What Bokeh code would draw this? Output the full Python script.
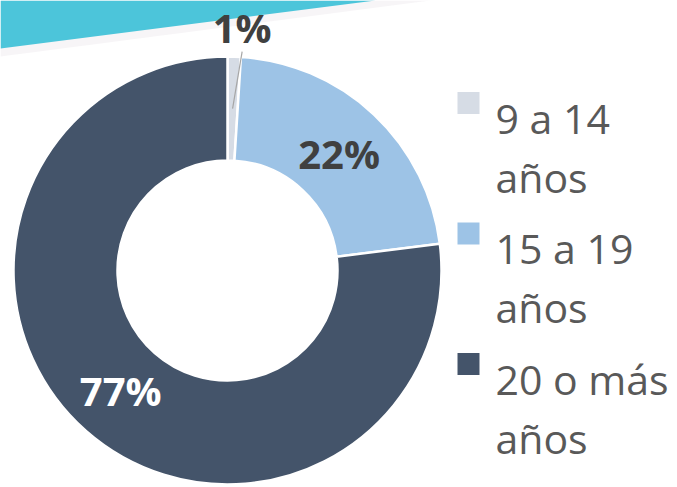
import numpy as np
from bokeh.plotting import figure
from bokeh.models import Range1d
from bokeh.core.properties import value
from bokeh.embed import file_html
from bokeh.resources import INLINE

# ---- data ----
categories = ["9 a 14 años", "15 a 19 años", "20 o más años"]
values = [1, 22, 77]
labels = ["1%", "22%", "77%"]
colors = ["#D6DCE5", "#9DC3E6", "#44546A"]
label_colors = ["#404040", "#404040", "#FFFFFF"]

W, H = 677, 487
REF_H = 487  # reference pixel frame; data y = REF_H - screen y

p = figure(width=W, height=H, output_backend="svg", toolbar_location=None,
           x_range=Range1d(0, W), y_range=Range1d(REF_H - H, REF_H),
           min_border=0, outline_line_color=None)
p.axis.visible = False
p.xgrid.visible = False
p.ygrid.visible = False
p.background_fill_color = "white"
p.border_fill_color = "white"

# decorative teal band at top-left with a soft pale edge
p.patch([0, 430, 0], [REF_H, REF_H, REF_H - 56], color="#F4F1F3", alpha=0.7, line_color=None)
p.patch([0, 375, 0], [REF_H, REF_H, REF_H - 48], color="#4CC5DA", line_color=None)

# donut
cx, cy = 227, REF_H - 270
r_in, r_out = 110, 214
vals = np.array(values, dtype=float)
frac = vals / vals.sum()
cum = np.concatenate([[0], np.cumsum(frac)])
start = np.pi / 2 - cum[:-1] * 2 * np.pi
end = np.pi / 2 - cum[1:] * 2 * np.pi
p.annular_wedge(x=cx, y=cy, inner_radius=r_in, outer_radius=r_out,
                start_angle=start, end_angle=end, direction="clock",
                fill_color=colors, line_color="white", line_width=2.5)

mid = (start + end) / 2
lab_r = np.array([243, 160, 160])
lx = cx + lab_r * np.cos(mid) + np.array([7, 2, -1])
ly = cy + lab_r * np.sin(mid)

# leader line for the small slice
p.segment(x0=cx + 162 * np.cos(mid[0]), y0=cy + 162 * np.sin(mid[0]),
          x1=lx[0], y1=ly[0] - 24, line_color="#A6A6A6", line_width=1.2)

p.text(x=lx, y=ly, text=labels, text_color=label_colors,
       text_font=value("Open Sans"), text_font_style="bold", text_font_size="40px",
       text_align="center", text_baseline="middle")

# legend (manual)
leg_x = 468
base0 = REF_H - 117
step = 130.5
for i, cat in enumerate(categories):
    first, second = cat.rsplit(" ", 1)
    by = base0 - i * step
    p.rect(x=leg_x, y=by + 14.5, width=22, height=22, fill_color=colors[i], line_color=None)
    p.text(x=[495, 495], y=[by, by - 59], text=[first, second], text_color="#595959",
           text_font=value("Open Sans"), text_font_size="41px",
           text_align="left", text_baseline="alphabetic")

open("out.html", "w").write(file_html(p, INLINE))
